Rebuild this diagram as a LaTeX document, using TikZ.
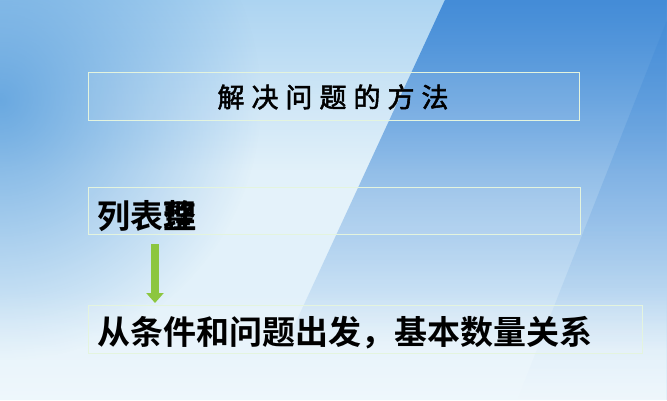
\documentclass[tikz,border=0pt]{standalone}
\usepackage{fontspec}
\usetikzlibrary{fadings,arrows.meta}
\newfontfamily\cjkbold{Noto Sans CJK SC Bold}
\newfontfamily\cjkkai[FakeBold=2]{Noto Sans CJK SC}
\definecolor{bgbase}{RGB}{226,241,250}
\definecolor{bgtop}{RGB}{150,200,238}
\definecolor{bgleft}{RGB}{95,162,222}
\definecolor{bgdark}{RGB}{62,136,214}
\definecolor{boxline}{RGB}{228,244,222}
\definecolor{arrowgreen}{RGB}{140,198,63}
\tikzfading[name=softglow, inner color=transparent!0, outer color=transparent!100]
\tikzset{
  panel/.style={draw=boxline, line width=1.2pt, fill=white, fill opacity=0.08, anchor=south west, inner sep=0pt},
  bigtext/.style={font=\cjkbold\fontsize{33}{33}\selectfont, text=black, anchor=west, inner sep=0pt},
  titletext/.style={font=\cjkkai\fontsize{27}{27}\selectfont, text=black, inner sep=0pt},
  flow/.style={draw=arrowgreen, line width=8pt, -{Triangle[width=17pt,length=10pt]}}
}
\begin{document}
\begin{tikzpicture}[x=1pt,y=1pt]
\useasboundingbox (0,0) rectangle (667,400);
% background
\fill[bgbase] (0,0) rectangle (667,400);
\fill[bgtop, opacity=0.7, path fading=south] (0,230) rectangle (667,400);
\begin{scope}
\clip (0,0) rectangle (667,400);
\fill[bgleft, opacity=0.9, path fading=softglow] (-260,40) rectangle (260,560);
\fill[bgdark, opacity=0.95, path fading=south] (445,400) -- (667,400) -- (667,50) -- (283,50) -- cycle;
\fill[bgdark, opacity=0.35, path fading=south] (667,380) -- (667,0) -- (517,0) -- cycle;
\end{scope}
\fill[white, opacity=0.45, path fading=north] (0,0) rectangle (667,110);
% panels
\node[panel, minimum width=491pt, minimum height=48pt] (b1) at (88,279) {};
\node[panel, minimum width=492pt, minimum height=47pt] (b2) at (88,165) {};
\node[panel, minimum width=554pt, minimum height=48pt] (b3) at (88,46) {};
% texts
\node[titletext] (t1) at (333,303) {解\hspace{7pt}决\hspace{7pt}问\hspace{7pt}题\hspace{7pt}的\hspace{7pt}方\hspace{7pt}法};
\node[bigtext] (t2) at (97,184) {列表\makebox[0pt][l]{整}理};
\node[bigtext] (t3) at (97,67) {从条件和问题出发，基本数量关系};
% arrow
\coordinate (a1) at (155,156);
\coordinate (a2) at (155,97);
\draw[flow] (a1) -- (a2);
\end{tikzpicture}
\end{document}
